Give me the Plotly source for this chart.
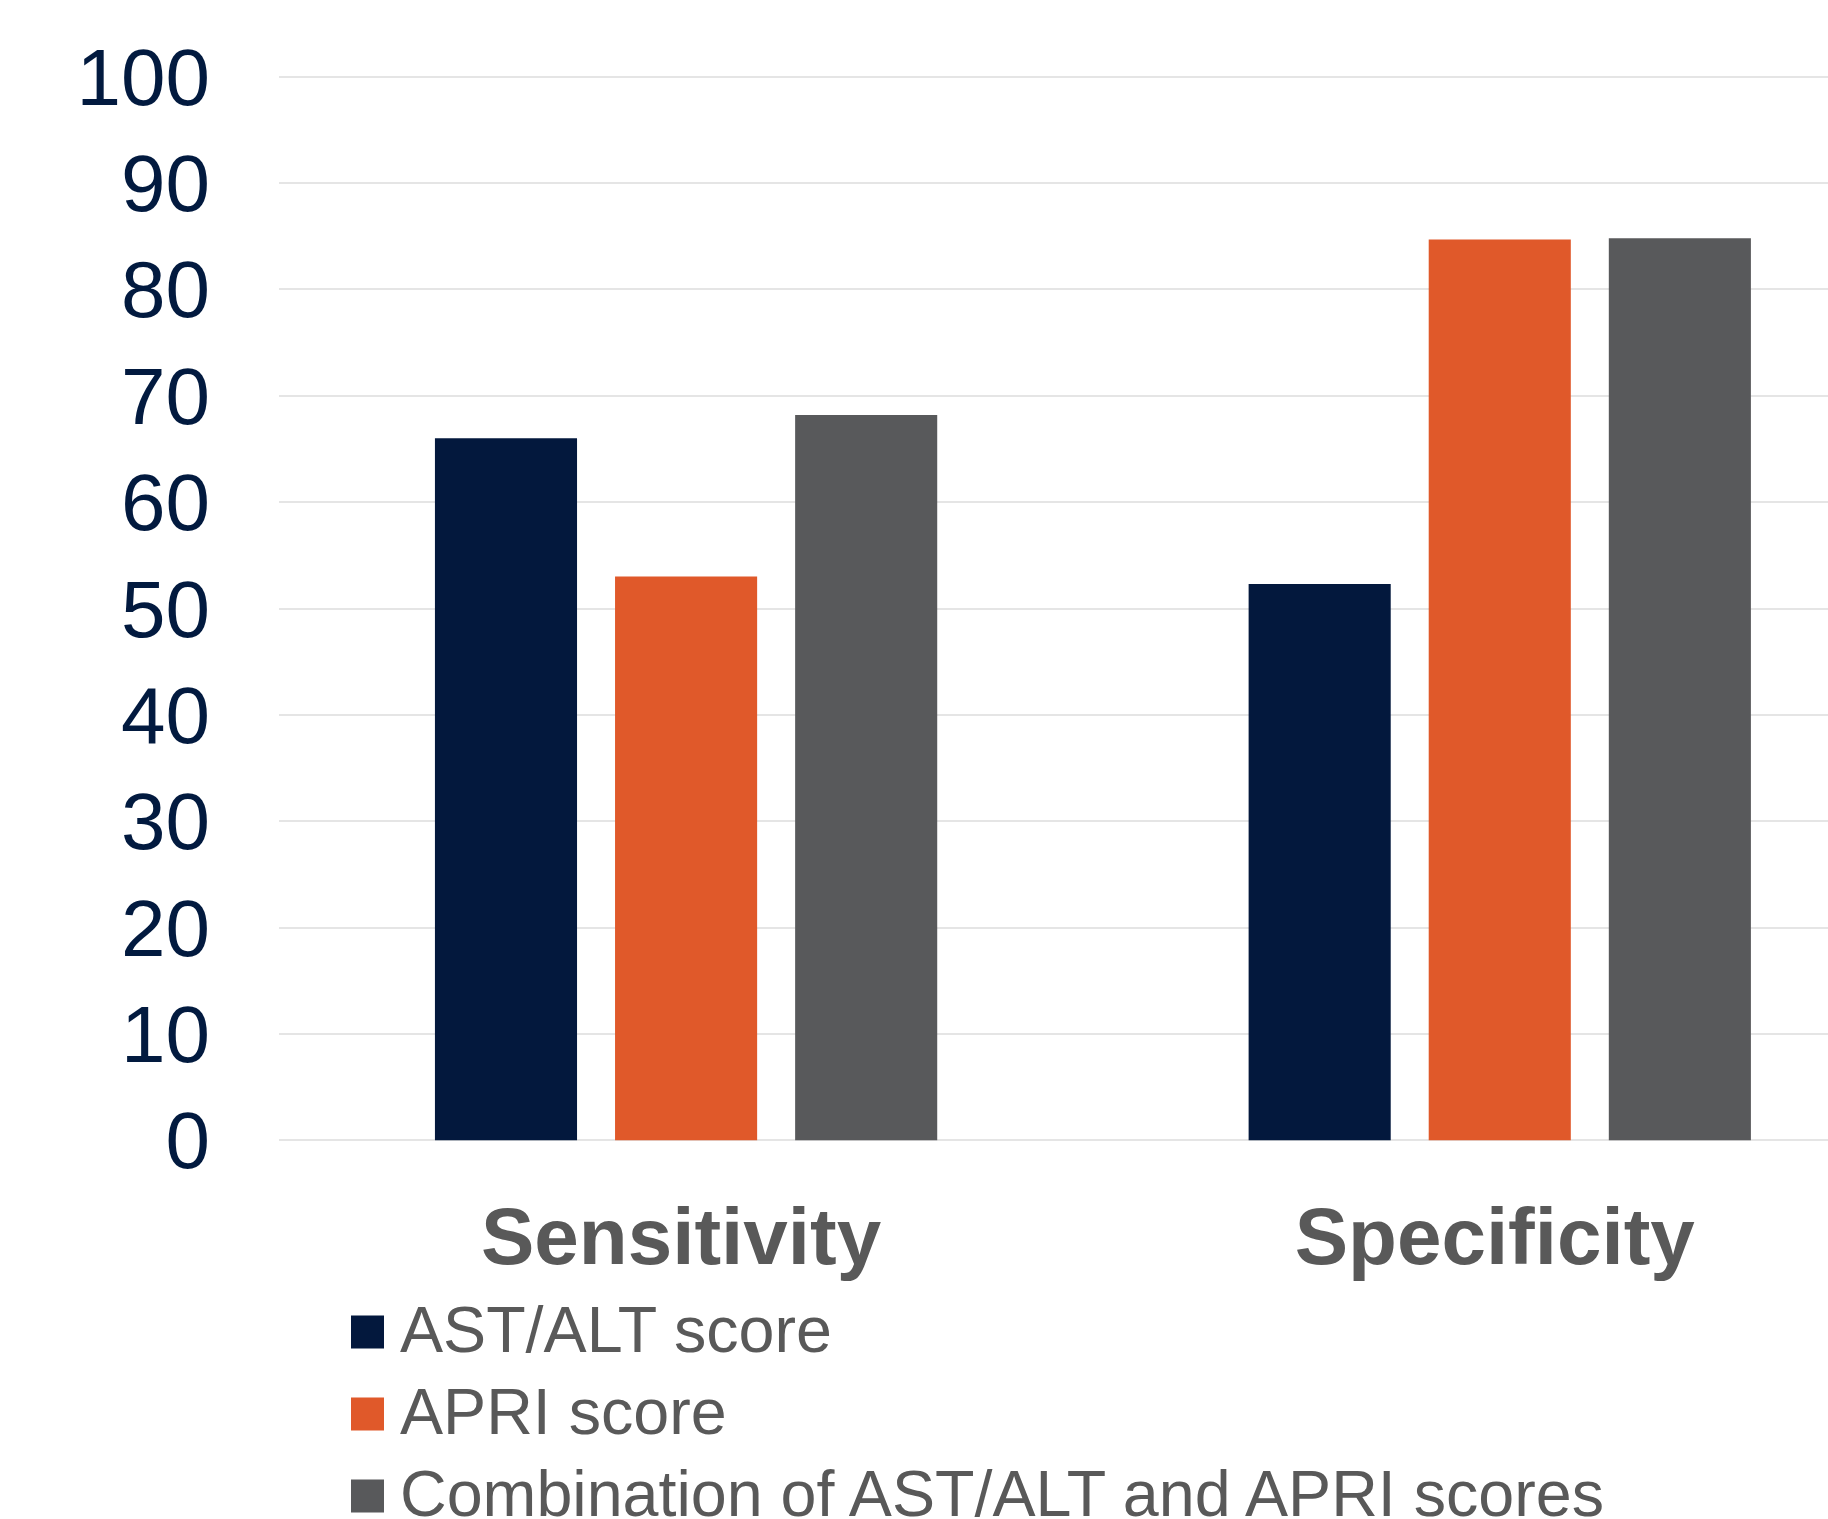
import plotly.graph_objects as go

categories = ["Sensitivity", "Specificity"]
series_names = ["AST/ALT score", "APRI score", "Combination of AST/ALT and APRI scores"]
ast_alt = [66.0, 52.3]
apri = [53.0, 84.7]
combination = [68.2, 84.8]
series_values = [ast_alt, apri, combination]
colors = ["#03183D", "#E0592A", "#58595B"]
y_ticks = [0, 10, 20, 30, 40, 50, 60, 70, 80, 90, 100]

W, H = 1828, 1519
ml, mr, mt, mb = 279, 0, 74, 376
pw = W - ml - mr
ph = H - mt - mb

FONT = "Arial, 'Liberation Sans', sans-serif"

fig = go.Figure()
for name, vals, col in zip(series_names, series_values, colors):
    fig.add_trace(go.Bar(x=categories, y=vals, name=name, marker=dict(color=col, line=dict(width=0)),
                         showlegend=False))

# manual legend (large squares)
legend_centers_px = [1332, 1414, 1496]
for name, col, cy in zip(series_names, colors, legend_centers_px):
    ypap = (H - mb - cy) / ph
    xpap = (367.5 - ml) / pw
    fig.add_shape(type="rect", xref="paper", yref="paper", xsizemode="pixel", ysizemode="pixel",
                  xanchor=xpap, yanchor=ypap, x0=-16.5, x1=16.5, y0=-16.5, y1=16.5,
                  fillcolor=col, line=dict(width=0))
    fig.add_annotation(text=name, xref="paper", yref="paper", x=(398 - ml) / pw, y=(H - mb - (cy - 2)) / ph,
                       xanchor="left", yanchor="middle", showarrow=False,
                       font=dict(family=FONT, size=64.6, color="#595959"))

fig.update_layout(
    width=W, height=H,
    margin=dict(l=ml, r=mr, t=mt, b=mb),
    plot_bgcolor="white", paper_bgcolor="white",
    barmode="group", bargap=0.336, bargroupgap=0.211,
    font=dict(family=FONT),
)
fig.update_xaxes(range=[-0.5003, 1.4034], showgrid=False, showline=False, ticks="",
                 tickfont=dict(family=FONT, size=80, color="#595959", weight="bold"),
                 ticklabelstandoff=40, ticklabelshift=-5)
fig.update_yaxes(range=[-0.25, 100.25], tickvals=y_ticks, ticktext=[str(v) for v in y_ticks],
                 showgrid=True, gridcolor="#E5E5E5", gridwidth=2, zeroline=False, showline=False,
                 ticks="", tickfont=dict(family=FONT, size=80, color="#021A3F"),
                 ticklabelstandoff=68)

fig.write_html("out.html", config={"displayModeBar": False},
               post_script="document.body.style.margin='0';document.body.style.overflow='hidden';")
